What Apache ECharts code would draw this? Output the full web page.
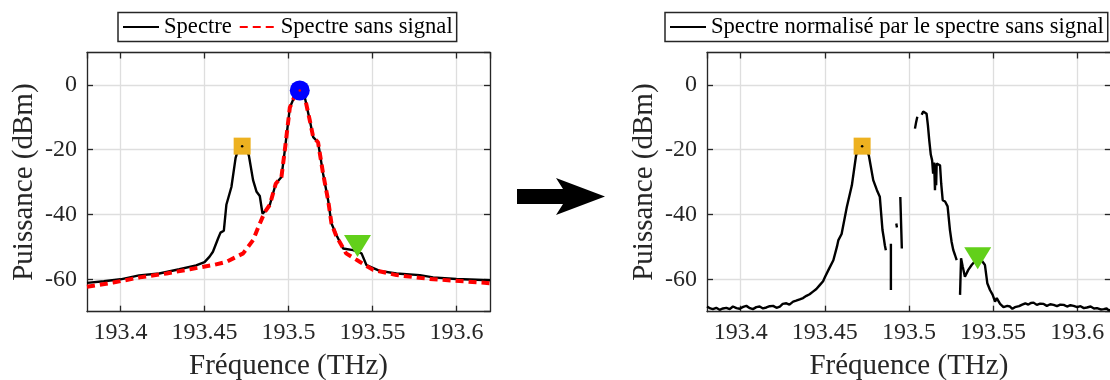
<!DOCTYPE html>
<html>
<head>
<meta charset="utf-8">
<script src="https://cdn.jsdelivr.net/npm/echarts@6/dist/echarts.min.js"></script>
<style>
html,body{margin:0;padding:0;background:#fff;}
#chart{width:1110px;height:380px;}
</style>
</head>
<body>
<div id="chart"></div>
<script>
// ---- Data ----
const xTickLabels = ['193.4', '193.45', '193.5', '193.55', '193.6'];
const yTickLabels = ['-60', '-40', '-20', '0'];

const spectreFreq = [193.380,193.390,193.400,193.411,193.423,193.435,193.445,193.450,193.453,193.455,193.458,193.4595,193.4615,193.463,193.466,193.4685,193.4705,193.4724,193.4745,193.4764,193.4789,193.481,193.4829,193.4845,193.4865,193.4889,193.4924,193.4958,193.4978,193.5008,193.5038,193.5067,193.5097,193.5127,193.5147,193.5176,193.5206,193.5236,193.5256,193.5286,193.5325,193.5385,193.5435,193.5464,193.5543,193.5643,193.5782,193.5861,193.600,193.620];
const spectreDb = [-61.1,-60.6,-60.0,-58.8,-58.2,-56.9,-55.7,-54.7,-53.0,-51.5,-47.5,-45.6,-45.0,-37.0,-31.5,-22.5,-19.2,-18.9,-19.2,-21.8,-29.4,-33.0,-34.3,-39.7,-38.8,-37.0,-30.5,-28.4,-20.2,-7.0,-3.3,-1.7,-3.8,-11.0,-16.1,-17.7,-27.4,-35.6,-42.8,-46.4,-50.5,-51.0,-52.0,-55.6,-57.4,-58.2,-58.7,-59.4,-59.9,-60.3];

const sansSignalFreq = [193.380,193.3956,193.4115,193.4274,193.4413,193.4551,193.4631,193.473,193.4789,193.4829,193.4859,193.4889,193.4924,193.4958,193.4978,193.5008,193.5038,193.5067,193.5097,193.5127,193.5147,193.5176,193.5206,193.5236,193.5256,193.5286,193.5343,193.5424,193.5504,193.5643,193.5841,193.620];
const sansSignalDb = [-62.3,-61.0,-59.4,-58.2,-56.9,-55.6,-54.6,-52.0,-47.9,-42.8,-39.2,-37.0,-30.5,-28.4,-20.2,-7.0,-3.3,-1.7,-3.8,-11.0,-16.1,-17.7,-27.4,-35.6,-42.8,-46.8,-52.0,-54.6,-57.1,-58.7,-59.9,-61.2];

const normFreq = [193.3800,193.3820,193.3835,193.3855,193.3875,193.3895,193.3915,193.3935,193.3954,193.3975,193.3994,193.4015,193.4034,193.4055,193.4073,193.4093,193.4113,193.4133,193.4153,193.4173,193.4193,193.4213,193.4233,193.4250,193.4272,193.4290,193.4312,193.4330,193.4351,193.4371,193.4391,193.4410,193.4430,193.4450,193.4470,193.4490,193.4502,193.4522,193.4551,193.4572,193.4581,193.4600,193.4611,193.4631,193.4661,193.4686,193.4705,193.4722,193.4742,193.4762,193.4788,193.4810,193.4827,193.4843,193.4850,193.4857,193.4863,
  null,193.4893,193.4893,
  null,193.4925,193.4929,
  null,193.4949,193.4952,193.4958,
  null,193.5036,193.5043,193.5050,
  null,193.5076,193.5085,193.5095,193.5105,193.5113,193.5121,193.5130,193.5138,193.5144,193.5150,193.5155,193.5158,193.5162,193.5165,193.5175,193.5185,193.5192,193.5201,193.5215,193.5230,193.5244,193.5254,193.5264,193.5274,193.5284,
  null,193.5304,193.5310,193.5320,193.5333,193.5353,193.5373,193.5395,193.5423,193.5452,193.5466,193.5482,193.5498,193.5512,193.5522,193.5532,193.5542,193.5552,193.5562,193.5571,193.5585,193.5601,193.5615,193.5630,193.5641,193.5655,193.5670,193.5681,193.5692,193.5710,193.5725,193.5741,193.5760,193.5780,193.5801,193.5820,193.5840,193.5860,193.5880,193.5900,193.5920,193.5940,193.5960,193.5979,193.6000,193.6020,193.6040,193.6058,193.6080,193.6100,193.6118,193.6140,193.6158,193.6175,193.6188,193.6200];
const normDb = [-68.4,-69.0,-69.2,-68.8,-69.4,-69.0,-68.8,-69.2,-68.4,-68.9,-69.1,-68.5,-68.2,-68.9,-69.2,-68.6,-68.4,-69.0,-68.7,-68.3,-68.2,-68.8,-68.4,-67.6,-67.4,-67.8,-66.9,-66.6,-66.2,-65.8,-65.1,-64.6,-63.8,-63.0,-61.8,-60.6,-59.2,-57.1,-54.1,-50.0,-47.9,-46.0,-45.7,-37.7,-31.0,-21.8,-19.2,-18.9,-19.2,-21.8,-29.4,-32.5,-34.5,-44.8,-47.0,-49.5,-51.0,
  null,-49.0,-63.3,
  null,-42.8,-44.0,
  null,-34.6,-40.0,-50.5,
  null,-13.5,-11.5,-9.8,
  null,-9.2,-8.2,-7.6,-8.9,-12.5,-17.1,-21.5,-23.3,-27.4,-24.0,-32.5,-25.0,-31.0,-24.3,-24.0,-24.8,-30.5,-35.6,-36.0,-37.5,-44.8,-48.5,-51.0,-52.5,-54.1,
  null,-64.8,-53.5,-56.1,-59.2,-57.1,-55.6,-54.3,-53.5,-55.6,-61.2,-63.3,-64.8,-66.9,-65.8,-66.2,-67.6,-67.9,-68.6,-68.9,-68.2,-68.4,-69.1,-68.6,-68.9,-68.3,-67.9,-68.2,-67.4,-67.8,-67.3,-67.2,-67.9,-67.5,-67.6,-68.2,-67.7,-67.9,-68.3,-67.8,-67.9,-68.4,-68.0,-68.2,-68.6,-68.3,-68.9,-68.7,-68.4,-69.0,-68.9,-69.3,-69.2,-69.0,-69.6,-69.4];

// markers [freq, dB]
const markerSquareLeft = [193.4724, -18.9];
const markerCircleLeft = [193.5067, -1.7];
const markerTriLeft = [193.5411, -49.7];
const markerSquareRight = [193.4722, -18.9];
const markerTriRight = [193.5409, -53.5];

const xMin = 193.38, xMax = 193.62, yMin = -70, yMax = 10;

// ---- Build ----
function pairs(fx, fy) {
  return fx.map((f, i) => (f === null || fy[i] === null) ? ['-', '-'] : [f, fy[i]]);
}
const AX = '#262626';
const FONT = 'Liberation Serif';
const GRIDC = '#dedede';

function xAxes(gi) {
  return [
    { gridIndex: gi, type: 'value', min: xMin, max: xMax, splitNumber: 5, position: 'bottom',
      axisLine: { show: true, onZero: false, lineStyle: { color: AX, width: 1.3 } },
      axisTick: { show: true, inside: true, length: 6, lineStyle: { color: AX, width: 1.3 } },
      axisLabel: { show: true, showMinLabel: false, showMaxLabel: false, margin: 9, color: AX,
        fontFamily: FONT, fontSize: 24,
        formatter: v => { const s = xTickLabels.find(t => Math.abs(parseFloat(t) - v) < 1e-6); return s || ''; } },
      splitLine: { show: true, lineStyle: { color: GRIDC, width: 1.3 } },
      name: 'Fréquence (THz)', nameLocation: 'middle', nameGap: 40,
      nameTextStyle: { fontFamily: FONT, fontSize: 29, color: AX } },
    { gridIndex: gi, type: 'value', min: xMin, max: xMax, splitNumber: 5, position: 'top',
      axisLine: { show: true, onZero: false, lineStyle: { color: AX, width: 1.3 } },
      axisTick: { show: true, inside: true, length: 6, lineStyle: { color: AX, width: 1.3 } },
      axisLabel: { show: false }, splitLine: { show: false } }
  ];
}
function yAxes(gi) {
  return [
    { gridIndex: gi, type: 'value', min: yMin, max: yMax, splitNumber: 4, position: 'left',
      axisLine: { show: true, onZero: false, lineStyle: { color: AX, width: 1.3 } },
      axisTick: { show: true, inside: true, length: 6, lineStyle: { color: AX, width: 1.3 } },
      axisLabel: { show: true, showMinLabel: false, showMaxLabel: false, margin: 10, color: AX,
        fontFamily: FONT, fontSize: 24,
        formatter: v => { const s = yTickLabels.find(t => Math.abs(parseFloat(t) - v) < 1e-6); return s || ''; } },
      splitLine: { show: true, lineStyle: { color: GRIDC, width: 1.3 } },
      name: 'Puissance (dBm)', nameLocation: 'middle', nameGap: 48,
      nameTextStyle: { fontFamily: FONT, fontSize: 29, color: AX } },
    { gridIndex: gi, type: 'value', min: yMin, max: yMax, splitNumber: 4, position: 'right',
      axisLine: { show: true, onZero: false, lineStyle: { color: AX, width: 1.3 } },
      axisTick: { show: true, inside: true, length: 6, lineStyle: { color: AX, width: 1.3 } },
      axisLabel: { show: false }, splitLine: { show: false } }
  ];
}

const SQ = { symbol: 'rect', symbolSize: 17, itemStyle: { color: '#EDB120', opacity: 1 } };
const CI = { symbol: 'circle', symbolSize: 20, itemStyle: { color: '#0000FF', opacity: 1 } };
const TR = { symbol: 'triangle', symbolSize: [27, 22], symbolRotate: 180, itemStyle: { color: '#62D01A', opacity: 1 } };
function marker(name, xi, yi, pt, style) {
  return Object.assign({ name: name, type: 'scatter', xAxisIndex: xi, yAxisIndex: yi, data: [pt], z: 10, silent: true }, style);
}
function dot(xi, yi, pt, color) {
  return { type: 'scatter', xAxisIndex: xi, yAxisIndex: yi, data: [pt], symbol: 'circle', symbolSize: 2.5, itemStyle: { color: color, opacity: 1 }, z: 11, silent: true };
}
function legendBox(names, left) {
  return { data: names, left: left, top: 12.5, orient: 'horizontal',
    itemWidth: 36, itemHeight: 1, itemGap: 7, padding: [3, 4, 3, 4],
    itemStyle: { borderWidth: 0 },
    borderColor: AX, borderWidth: 1.5, backgroundColor: '#fff', selectedMode: false,
    textStyle: { fontFamily: FONT, fontSize: 22.6, color: '#000', lineHeight: 22 } };
}

const option = {
  animation: false,
  backgroundColor: '#fff',
  grid: [
    { left: 87, top: 52.5, width: 403, height: 259.2, outerBoundsMode: 'none', containLabel: false },
    { left: 707, top: 52.5, width: 403.8, height: 259.2, outerBoundsMode: 'none', containLabel: false }
  ],
  xAxis: xAxes(0).concat(xAxes(1)),
  yAxis: yAxes(0).concat(yAxes(1)),
  legend: [
    legendBox(['Spectre', 'Spectre sans signal'], 118),
    legendBox(['Spectre normalisé par le spectre sans signal'], 665)
  ],
  series: [
    { name: 'Spectre', type: 'line', xAxisIndex: 0, yAxisIndex: 0, data: pairs(spectreFreq, spectreDb),
      symbol: 'none', showSymbol: false, lineStyle: { color: '#000', width: 2.4 }, itemStyle: { color: '#000' }, z: 2 },
    { name: 'Spectre sans signal', type: 'line', xAxisIndex: 0, yAxisIndex: 0, data: pairs(sansSignalFreq, sansSignalDb),
      symbol: 'none', showSymbol: false, lineStyle: { color: '#FF0000', width: 4, type: [8, 5] }, itemStyle: { color: '#FF0000' }, z: 3 },
    marker('m1', 0, 0, markerSquareLeft, SQ),
    marker('m2', 0, 0, markerCircleLeft, CI),
    marker('m3', 0, 0, markerTriLeft, TR),
    dot(0, 0, markerSquareLeft, '#000'),
    dot(0, 0, markerCircleLeft, '#FF0000'),
    { name: 'Spectre normalisé par le spectre sans signal', type: 'line', xAxisIndex: 2, yAxisIndex: 2,
      data: pairs(normFreq, normDb), connectNulls: false,
      symbol: 'none', showSymbol: false, lineStyle: { color: '#000', width: 2.4 }, itemStyle: { color: '#000' }, z: 2 },
    marker('m4', 2, 2, markerSquareRight, SQ),
    marker('m5', 2, 2, markerTriRight, TR),
    dot(2, 2, markerSquareRight, '#000')
  ],
  graphic: [
    { type: 'polygon', shape: { points: [[517, 189], [563, 189], [556, 178], [605, 196.5], [556, 215], [563, 204], [517, 204]] },
      style: { fill: '#000' } }
  ]
};

const chart = echarts.init(document.getElementById('chart'), null, { renderer: 'canvas' });
chart.setOption(option);
</script>
</body>
</html>
